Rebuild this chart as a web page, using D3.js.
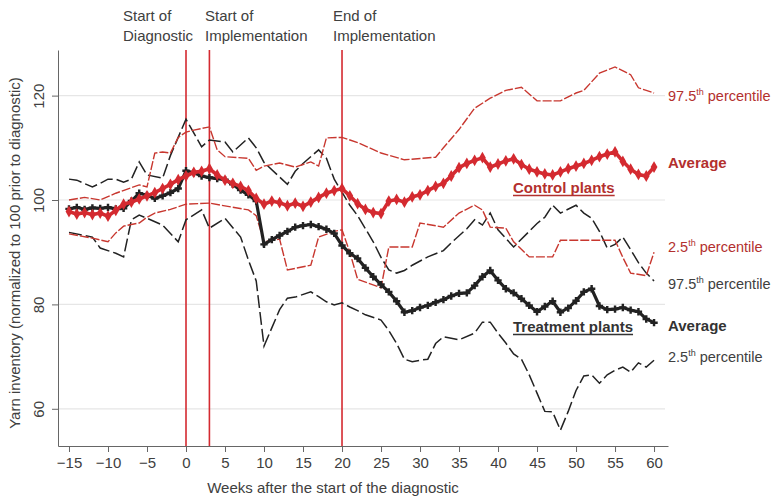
<!DOCTYPE html>
<html><head><meta charset="utf-8">
<script src="https://cdn.jsdelivr.net/npm/d3@7"></script>
<style>
body{margin:0;background:#fff;}
svg{display:block;font-family:"Liberation Sans",Arial,sans-serif;}
</style></head>
<body><svg id="c" width="774" height="499"></svg>
<script>
// ---------- data ----------
const weeks = d3.range(-15, 61); // -15 .. 60
const controlAvg = [97.8,97.3,97.6,97.2,97.5,96.9,98.0,99.2,99.6,100.2,100.8,101.4,102.2,103.0,103.9,
  104.6,105.3,105.5,106.0,104.8,103.8,103.2,102.6,101.8,100.3,99.2,99.8,99.5,98.9,99.4,98.8,99.6,100.5,101.3,101.8,
  102.2,100.8,99.3,98.2,97.6,97.4,99.8,100.1,99.6,100.6,101.0,101.8,102.6,103.2,104.6,106.2,107.0,107.6,108.1,106.3,
  106.9,107.5,107.9,106.8,105.9,105.4,105.0,104.8,105.4,106.0,106.5,107.0,107.6,108.3,108.8,109.2,107.4,105.9,104.9,104.6,106.3];
const treatAvg = [98.3,98.6,98.2,98.5,98.4,98.6,98.3,98.4,99.8,101.3,100.9,100.3,100.8,101.4,102.2,
  105.6,105.2,104.6,104.3,104.1,103.9,103.0,101.9,101.0,99.8,91.5,92.4,93.2,94.0,94.8,95.1,95.3,94.9,94.4,93.6,
  91.3,89.8,88.8,87.0,85.3,83.8,82.4,80.6,78.5,78.8,79.4,79.8,80.4,80.9,81.6,82.1,82.2,83.6,85.3,86.5,
  84.6,83.0,82.2,81.1,79.8,78.6,79.6,80.6,78.5,79.3,80.7,82.4,83.0,79.7,79.0,79.1,79.4,78.9,78.6,77.2,76.5];

const ctlHiWeeks = [-15,-13,-11,-9,-6,-5,-4,-3,-2,-1,0,1,3,4,5,8,9,10,12,14,16,17,18,20,22,25,28,32,33,35,37,39,41,43,45,48,50,51,53,55,57,58,59,60];
const ctlHi      = [100,100.5,100,101.3,102.9,102.5,109,109.2,109,112,113,113.4,114,109.6,108.3,108,105.7,106.5,107.1,106.3,107.3,106.5,111.9,112,111,109,107.7,108.2,110,113.5,117.6,119.5,121,121.6,119,119,120.5,121,124.3,125.5,124,121.5,121,120.5];

const ctlLoWeeks = [-15,-12,-10,-9,-8,-6,-5,-4,-2,0,3,8,9,10,12,13,16,17,19,20,21,22,25,26,29,30,33,35,37,38,39,41,42,44,47,48,55,56,57,59,60];
const ctlLo      = [93.5,92.7,92,93.7,95,95.6,96.7,97.5,98.2,99.2,99.4,98.1,97,92,92.5,86.6,87.5,92.9,94,94.3,90,84.8,83.2,91,91,95.6,94.8,97.5,99,98.1,94.8,94.6,92,89.1,89.1,92.3,92.3,89,86,85.5,90];

const trtHiWeeks = [-15,-14,-12,-11,-10,-9,-8,-7,-6,-5,-3,-2,0,2,3,5,6,8,9,10,13,14,15,17,18,19,20,21,22,24,25,26,27,28,29,31,33,34,36,37,38,39,40,42,44,45,46,47,48,50,51,52,53,54,55,56,57,58,59,60];
const trtHi      = [104,103.8,102.5,103.2,104,104,103.4,104,107.3,104.8,104.2,108.5,115.5,110.2,111.5,111.1,109.2,111.9,110,107.2,103,105.5,107,109.6,108,104,101.5,99,97,92,89,86.6,86,86.5,87.5,89.1,90.3,91.8,94.5,96.2,95.2,97.5,94.3,91,94,95.5,96.7,99,97.5,99,97.5,96.5,94,90.8,91.5,92.9,90.5,88,86,84.5];

const trtLoWeeks = [-15,-12,-11,-9,-8,-7,-6,-5,-3,-1,0,2,3,5,7,8,9,10,11,12,13,14,16,17,18,19,20,21,22,23,25,26,27,28,29,30,31,32,33,34,35,37,38,39,40,41,42,43,44,45,46,47,48,49,50,51,52,53,54,55,56,57,58,59,60];
const trtLo      = [93.8,92.9,90.8,89.8,89.1,96.2,97.1,96.5,95.2,92,96.2,98.1,94.6,96.5,92.9,88.5,84.5,72,75.5,79,81.2,81.4,82.4,81.5,80.5,79.9,80.3,79.5,78.8,78,77,75,72.5,69.5,69,69.3,69.5,72.5,73.8,73.5,73.2,74.5,76.6,76.6,74.5,72.6,70.5,69.5,66.5,63,59.5,59.4,55.9,59.5,63.5,66.3,66.5,64.9,66.5,67.4,68,67,68.8,68,69.3];

const xTicks = [-15,-10,-5,0,5,10,15,20,25,30,35,40,45,50,55,60];
const yTicks = [60,80,100,120];
const eventWeeks = [0,3,20];
const eventLabels = [["Start of","Diagnostic"],["Start of","Implementation"],["End of","Implementation"]];

// ---------- drawing ----------
const RED = "#d42a30", RED_TXT = "#b3302e", DARK = "#222", TXT = "#404040";
const svg = d3.select("#c");
const x = d3.scaleLinear().domain([-16.41, 61.79]).range([58, 668]);
const y = d3.scaleLinear().domain([52.87, 128.74]).range([446, 50]);

// grid
svg.append("g").selectAll("line").data(yTicks).join("line")
  .attr("x1", 58).attr("x2", 665).attr("y1", d => y(d)).attr("y2", d => y(d))
  .attr("stroke", "#e6e6e6").attr("stroke-width", 1.2);

// axes
const xa = svg.append("g").attr("transform", `translate(0,${y.range()[0]})`)
  .call(d3.axisBottom(x).tickValues(xTicks).tickSize(6).tickSizeOuter(0).tickPadding(5));
xa.selectAll("text").attr("font-size", 15).attr("fill", TXT).attr("font-family", "Liberation Sans, Arial, sans-serif");
const ya = svg.append("g").attr("transform", `translate(${x.range()[0]},0)`)
  .call(d3.axisLeft(y).tickValues(yTicks).tickSize(6).tickSizeOuter(0));
ya.selectAll("text").attr("font-size", 15).attr("fill", TXT).attr("font-family", "Liberation Sans, Arial, sans-serif")
  .attr("text-anchor", "middle").attr("x", 0).attr("dy", 0)
  .attr("transform", d => `translate(-18,0) rotate(-90)`).attr("dominant-baseline", "middle");
[xa, ya].forEach(a => { a.selectAll("path,line").attr("stroke", "#666"); });

// axis titles
svg.append("text").attr("x", 333).attr("y", 493).attr("text-anchor", "middle")
  .attr("font-size", 15).attr("fill", TXT).text("Weeks after the start of the diagnostic");
svg.append("text").attr("transform", "translate(20,253) rotate(-90)").attr("text-anchor", "middle")
  .attr("font-size", 15).attr("fill", TXT).text("Yarn inventory (normalized to 100 prior to diagnostic)");

// event lines + labels
svg.append("g").selectAll("line").data(eventWeeks).join("line")
  .attr("x1", d => x(d)).attr("x2", d => x(d)).attr("y1", 50).attr("y2", y.range()[0])
  .attr("stroke", RED).attr("stroke-width", 1.6);
const labX = [123, 205, 333];
eventLabels.forEach((ls, i) => {
  const t = svg.append("text").attr("font-size", 15).attr("fill", TXT);
  ls.forEach((s, j) => t.append("tspan").attr("x", labX[i]).attr("y", 21 + j * 20).text(s));
});

const line = d3.line().x(d => x(d[0])).y(d => y(d[1]));
const zip = (w, v) => w.map((d, i) => [d, v[i]]);

// percentile lines
svg.append("path").datum(zip(trtHiWeeks, trtHi)).attr("d", line).attr("fill", "none")
  .attr("stroke", DARK).attr("stroke-width", 1.5).attr("stroke-dasharray", "13,4");
svg.append("path").datum(zip(trtLoWeeks, trtLo)).attr("d", line).attr("fill", "none")
  .attr("stroke", DARK).attr("stroke-width", 1.5).attr("stroke-dasharray", "13,4");
svg.append("path").datum(zip(ctlHiWeeks, ctlHi)).attr("d", line).attr("fill", "none")
  .attr("stroke", "#c8372f").attr("stroke-width", 1.4).attr("stroke-dasharray", "9,2");
svg.append("path").datum(zip(ctlLoWeeks, ctlLo)).attr("d", line).attr("fill", "none")
  .attr("stroke", "#c8372f").attr("stroke-width", 1.4).attr("stroke-dasharray", "9,2");

// treatment average
const tData = zip(weeks, treatAvg);
svg.append("path").datum(tData).attr("d", line).attr("fill", "none")
  .attr("stroke", DARK).attr("stroke-width", 3.2);
svg.append("g").selectAll("path").data(tData).join("path")
  .attr("d", d3.symbol(d3.symbolCross, 30))
  .attr("transform", d => `translate(${x(d[0])},${y(d[1])})`).attr("fill", DARK);

// control average
const cData = zip(weeks, controlAvg);
svg.append("path").datum(cData).attr("d", line).attr("fill", "none")
  .attr("stroke", RED).attr("stroke-width", 3.6);
svg.append("g").selectAll("path").data(cData).join("path")
  .attr("d", d3.symbol(d3.symbolDiamond, 40))
  .attr("transform", d => `translate(${x(d[0])},${y(d[1])})`).attr("fill", RED);

// right-side labels
function pct(xp, yp, num, color) {
  const t = svg.append("text").attr("x", xp).attr("y", yp).attr("font-size", 14.5).attr("fill", color);
  t.append("tspan").text(num);
  t.append("tspan").attr("font-size", 9).attr("dy", -6).text("th");
  t.append("tspan").attr("dy", 6).text(" percentile");
}
pct(668, 101, "97.5", RED_TXT);
pct(668, 252, "2.5", RED_TXT);
pct(668, 289, "97.5", TXT);
pct(668, 362, "2.5", TXT);
svg.append("text").attr("x", 668).attr("y", 168).attr("font-size", 15).attr("font-weight", "bold").attr("fill", RED_TXT).text("Average");
svg.append("text").attr("x", 668).attr("y", 331).attr("font-size", 15).attr("font-weight", "bold").attr("fill", "#333").text("Average");
function under(xp, yp, s, color) {
  const t = svg.append("text").attr("x", xp).attr("y", yp).attr("font-size", 15).attr("font-weight", "bold").attr("fill", color).text(s);
  const w = t.node().getComputedTextLength();
  svg.append("line").attr("x1", xp).attr("x2", xp + w).attr("y1", yp + 2.5).attr("y2", yp + 2.5)
    .attr("stroke", color).attr("stroke-width", 1.3);
}
under(513, 193, "Control plants", RED_TXT);
under(513, 332, "Treatment plants", "#333");
</script></body></html>
